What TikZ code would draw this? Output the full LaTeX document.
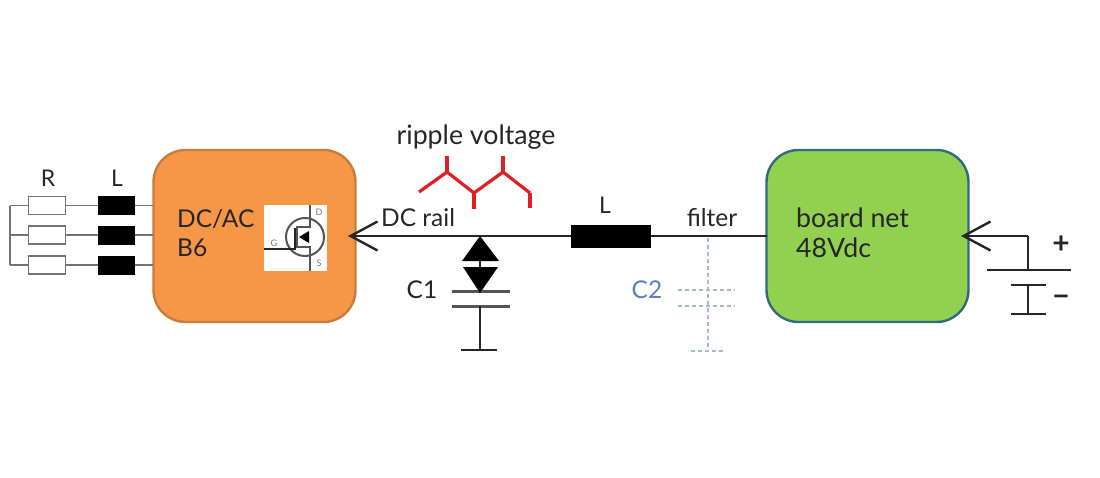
\documentclass[tikz,border=0pt]{standalone}
\usepackage{fontspec}
\setmainfont{Lato}
\usetikzlibrary{positioning,arrows.meta}
\usepackage{xcolor}
\definecolor{InkGrey}{RGB}{38,38,38}
\definecolor{PlateGrey}{RGB}{85,85,85}
\definecolor{ResGrey}{RGB}{115,115,115}
\definecolor{DcacOrange}{RGB}{247,150,70}
\definecolor{DcacEdge}{RGB}{200,125,60}
\definecolor{NetGreen}{RGB}{146,208,80}
\definecolor{NetEdge}{RGB}{50,105,130}
\definecolor{RippleRed}{RGB}{225,30,35}
\definecolor{FilterBlue}{RGB}{165,185,210}
\definecolor{LabelBlue}{RGB}{90,130,175}

\begin{document}
\begin{tikzpicture}[
x=1pt,y=-1pt,
block/.style={rectangle,rounded corners=32pt,line width=2.4pt,inner sep=0pt,outer sep=0pt,
minimum width=202pt,minimum height=172pt},
res/.style={rectangle,draw=ResGrey,fill=white,line width=1.8pt,inner sep=0pt,outer sep=0pt,
minimum width=37pt,minimum height=18pt},
coil/.style={rectangle,fill=black,inner sep=0pt,outer sep=0pt,minimum width=37pt,minimum height=19pt},
lbl/.style={font=\fontsize{24.5}{28}\selectfont,text=InkGrey,inner sep=0pt,align=left},
big lbl/.style={font=\fontsize{26.7}{30}\selectfont,text=InkGrey,inner sep=0pt,align=left},
small lbl/.style={font=\fontsize{23}{26}\selectfont,text=InkGrey,inner sep=0pt},
wire/.style={line width=2.4pt,draw=InkGrey},
thin wire/.style={line width=1.6pt,draw=ResGrey},
plate/.style={line width=3pt,draw=PlateGrey},
arrow/.style={-{Straight Barb[length=27pt,width=29pt,line width=2.4pt]},line width=2.4pt,draw=InkGrey},
dashwire/.style={line width=1.8pt,draw=FilterBlue,dash pattern=on 4pt off 3pt},
ripple/.style={line width=3.2pt,draw=RippleRed}
]
\useasboundingbox (0,0) rectangle (1100,477);

% blocks
\node[block,draw=DcacEdge,fill=DcacOrange] (dcac) at (254.5,236) {};
\node[block,draw=NetEdge,fill=NetGreen] (net) at (867.5,236) {};
\node[lbl,anchor=west] (dcactext) at (177,233) {DC/AC\\[1pt]B6};
\node[big lbl,anchor=west] (nettext) at (796,233) {board net\\48Vdc};

% load
\coordinate (bustop) at (10,205.5);
\coordinate (busbot) at (10,265);
\foreach \n/\y in {a/205.5,b/235,c/265}{
\coordinate (bus\n) at (10,\y);
\node[res] (r\n) at (47,\y) {};
\node[coil] (l\n) at (116.5,\y) {};
\coordinate (in\n) at (153,\y);
\draw[thin wire] (bus\n) -- (r\n);
\draw[thin wire] (r\n) -- (l\n);
\draw[thin wire] (l\n) -- (in\n);
}
\draw[thin wire] (bustop) -- (busbot);
\node[small lbl] (rtext) at (48,178) {R};
\node[small lbl] (ltext) at (117,178) {L};

% mosfet
\node[rectangle,fill=white,minimum width=63pt,minimum height=66pt,inner sep=0pt] (fet) at (295.5,238) {};
\node[circle,draw=PlateGrey,line width=2pt,minimum size=38pt,inner sep=0pt] (fetc) at (305,237) {};
\coordinate (gin) at (264,249);
\coordinate (gend) at (295,249);
\coordinate (dtop) at (310,205);
\coordinate (dend) at (310,227);
\coordinate (stop) at (310,247);
\coordinate (send) at (310,271);
\coordinate (chd) at (297,227);
\coordinate (chs) at (297,247);
\draw[line width=2.2pt,draw=InkGrey] (gin) -- (gend) -- +(0,-21);
\draw[line width=1.8pt,draw=PlateGrey] (dtop) -- (dend) -- (chd) -- (chs) -- (stop) -- (send);
\fill[black] (299,237) -- (309,231) -- (309,243) -- cycle;
\node[font=\fontsize{9}{10}\selectfont,text=ResGrey,inner sep=0pt] (gtext) at (274,243) {G};
\node[font=\fontsize{9}{10}\selectfont,text=ResGrey,inner sep=0pt] (dtext) at (319,212) {D};
\node[font=\fontsize{9}{10}\selectfont,text=ResGrey,inner sep=0pt] (stext) at (319,263) {S};

% dc rail
\node[coil,minimum width=80pt,minimum height=23pt] (lf) at (611,236) {};
\coordinate (railtip) at (348,236);
\draw[arrow] (lf) -- (railtip);
\draw[wire] (lf) -- (net);
\node[lbl,anchor=west] (railtext) at (381,218) {DC rail};
\node[small lbl] (ltwo) at (605,205) {L};
\node[lbl] (filtertext) at (712,218) {filter};
\node[big lbl] (rippletext) at (476,137) {ripple voltage};

% ripple
\coordinate (p1) at (419,192);
\coordinate (p2) at (447,172);
\coordinate (p3) at (474,193);
\coordinate (p4) at (503,172);
\coordinate (p5) at (530,193);
\draw[ripple] (p1) -- (p2) -- (p3) -- (p4) -- (p5);
\draw[ripple] (p2) -- +(0,-16);
\draw[ripple] (p4) -- +(0,-16);
\draw[ripple] (p3) -- +(0,16);
\draw[ripple] (p5) -- +(0,15);

% c1
\coordinate (c1top) at (480,236);
\coordinate (c1mid) at (480,291);
\coordinate (c1low) at (480,306);
\coordinate (c1gnd) at (480,350);
\draw[plate] (452,291) -- (510,291);
\draw[plate] (452,306) -- (510,306);
\draw[wire] (c1top) -- (c1mid);
\fill[black] (c1top) -- (499,261) -- (462,261) -- cycle;
\fill[black] (c1mid) ++(0,2) -- (498,267) -- (463,267) -- cycle;
\draw[wire] (c1low) -- (c1gnd);
\draw[wire] (461,350) -- (497,350);
\node[lbl] (c1text) at (422,290) {C1};

% c2
\coordinate (c2top) at (708,238);
\coordinate (c2gnd) at (708,351);
\draw[dashwire] (c2top) -- (c2gnd);
\draw[dashwire] (678,290) -- (735,290);
\draw[dashwire] (678,306) -- (735,306);
\draw[dashwire] (691,351) -- (725,351);
\node[lbl,text=LabelBlue] (c2text) at (647,290) {C2};

% source
\coordinate (srctip) at (961,236);
\coordinate (srcup) at (1028,236);
\coordinate (srcplus) at (1028,270);
\coordinate (srcminus) at (1028,285);
\coordinate (srcend) at (1028,314);
\draw[arrow] (srcup) -- (srctip);
\draw[wire] (srcup) -- (srcplus);
\draw[wire] (987,270) -- (1071,270);
\draw[wire] (1011,285) -- (1046,285);
\draw[wire] (srcminus) -- (srcend);
\draw[wire] (1011,314) -- (1046,314);
\node[font=\bfseries\fontsize{30}{32}\selectfont,text=InkGrey,inner sep=0pt] (plustext) at (1061,245) {+};
\node[font=\bfseries\fontsize{30}{32}\selectfont,text=InkGrey,inner sep=0pt] (minustext) at (1061,301) {\textminus};
\end{tikzpicture}
\end{document}
